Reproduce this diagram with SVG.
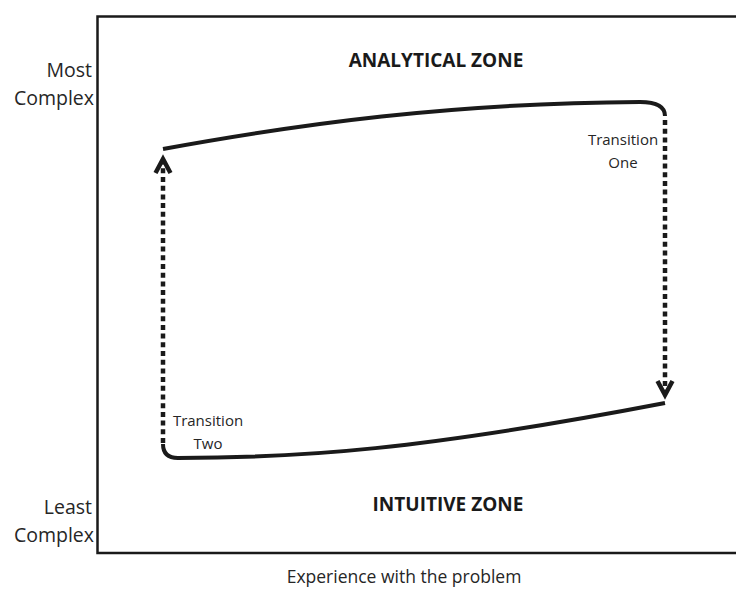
<svg xmlns="http://www.w3.org/2000/svg" width="736" height="592" viewBox="0 0 736 592">
<style>
text { font-family: "Open Sans", "Liberation Sans", sans-serif; fill: #262626; }
.axis { font-size: 19.5px; text-anchor: end; }
.zone { font-size: 19px; font-weight: bold; text-anchor: middle; fill: #1a1a1a; }
.tlabel { font-size: 15px; text-anchor: middle; }
.solid { fill: none; stroke: #1a1a1a; stroke-width: 4; stroke-linecap: butt; }
.dash { fill: none; stroke: #1a1a1a; stroke-width: 4.5; stroke-dasharray: 5 3.7; }
.head { fill: none; stroke: #1a1a1a; stroke-width: 4.5; stroke-linejoin: miter; stroke-miterlimit: 10; }
.frame { fill: none; stroke: #1a1a1a; stroke-width: 2.5; }
</style>
<rect width="736" height="592" fill="#ffffff"/>
<g id="frame">
  <path class="frame" d="M736,16.5 H97.5 V553 H736"/>
</g>
<g id="axis-labels">
  <text class="axis" x="92" y="77">Most</text>
  <text class="axis" x="94" y="105">Complex</text>
  <text class="axis" x="92" y="514">Least</text>
  <text class="axis" x="94" y="542">Complex</text>
  <text x="404" y="583" font-size="17.5" text-anchor="middle">Experience with the problem</text>
</g>
<g id="analytical-zone">
  <text class="zone" x="436" y="67">ANALYTICAL ZONE</text>
  <path class="solid" d="M163,149 C300,124 450,103 640,102 Q665,102 665,116"/>
</g>
<g id="intuitive-zone">
  <text class="zone" x="448" y="511">INTUITIVE ZONE</text>
  <path class="solid" d="M163,444 Q163,458 178,458 C300,458 420,450 665,403"/>
</g>
<g id="connectors">
  <g id="transition-one">
    <line class="dash" x1="665" y1="120" x2="665" y2="392"/>
    <polyline class="head" points="657.5,381 665,395 672.5,381"/>
  </g>
  <g id="transition-two">
    <line class="dash" x1="163" y1="443" x2="163" y2="162"/>
    <polyline class="head" points="155.5,173 163,159 170.5,173"/>
  </g>
</g>
<g id="transition-labels">
  <text class="tlabel" x="623" y="145">Transition</text>
  <text class="tlabel" x="623" y="168">One</text>
  <text class="tlabel" x="208" y="426">Transition</text>
  <text class="tlabel" x="208" y="449">Two</text>
</g>
</svg>
